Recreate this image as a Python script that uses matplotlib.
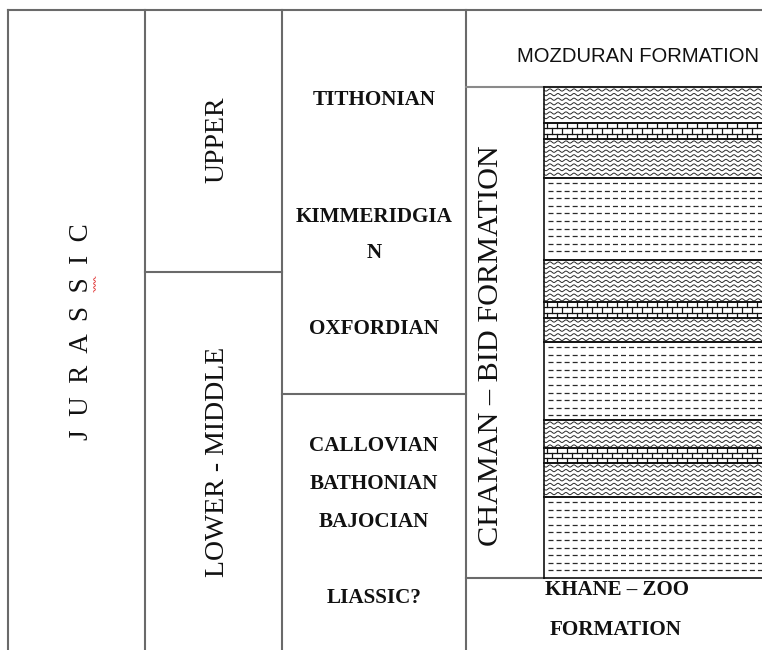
import numpy as np
import matplotlib.pyplot as plt

# --------------------------
# layout of the column (in pixels)

frame_left = 8
frame_top = 10
col_edges = [8, 145, 282, 466]
litho_left = 544
width_px = 762
height_px = 650

period_label = "J  U  R  A  S  S  I  C"

epoch_labels = ["UPPER", "LOWER - MIDDLE"]
epoch_bounds = [10, 272, 650]
epoch_label_y = [140, 462]

stage_split = 394
stage_labels = ["TITHONIAN", "KIMMERIDGIA", "N", "OXFORDIAN",
                "CALLOVIAN", "BATHONIAN", "BAJOCIAN", "LIASSIC?"]
stage_label_y = [100, 217, 253, 329, 446, 484, 522, 598]

formation_bounds = [10, 87, 578, 650]

litho_tops = [87, 123, 139, 178, 260, 302, 318, 342, 420, 448, 463, 497]
litho_bottoms = [123, 139, 178, 260, 302, 318, 342, 420, 448, 463, 497, 578]
litho_types = ["wavy", "brick", "wavy", "dash",
               "wavy", "brick", "wavy", "dash",
               "wavy", "brick", "wavy", "dash"]

# --------------------------

plt.rcParams["lines.scale_dashes"] = False

fig = plt.figure(figsize=(7.62, 6.5), dpi=100)
ax = fig.add_axes([0, 0, 1, 1])
ax.set_xlim(0, width_px)
ax.set_ylim(height_px, 0)
ax.axis("off")

grid_color = "#6a6a6a"
grid_lw = 1.5
serif = "Liberation Serif"

# frame and column lines
ax.plot([frame_left, width_px], [frame_top, frame_top], color=grid_color, lw=grid_lw)
for x in col_edges:
    ax.plot([x, x], [frame_top, height_px], color=grid_color, lw=grid_lw)

ax.plot([col_edges[1], col_edges[2]], [epoch_bounds[1], epoch_bounds[1]],
        color=grid_color, lw=grid_lw)
ax.plot([col_edges[2], col_edges[3]], [stage_split, stage_split],
        color=grid_color, lw=grid_lw)
ax.plot([col_edges[3], width_px], [formation_bounds[1], formation_bounds[1]],
        color="#8a8a8a", lw=grid_lw)
ax.plot([col_edges[3], litho_left], [formation_bounds[2], formation_bounds[2]],
        color=grid_color, lw=grid_lw)

# lithology patterns
xs = np.arange(litho_left, width_px + 1, 0.5)
for top, bot, kind in zip(litho_tops, litho_bottoms, litho_types):
    if kind == "wavy":
        for y0 in np.arange(top + 3, bot - 1, 4.6):
            ax.plot(xs, y0 + 1.1 * np.sin(2 * np.pi * (xs - litho_left) / 8.0),
                    color="#2a2a2a", lw=0.7)
    elif kind == "brick":
        rows = np.linspace(top, bot, 4)
        for y0 in rows[1:-1]:
            ax.plot([litho_left, width_px], [y0, y0], color="#111111", lw=0.9)
        for i in range(3):
            off = 0 if i % 2 == 0 else 5
            for x0 in np.arange(litho_left + 3 + off, width_px, 10):
                ax.plot([x0, x0], [rows[i], rows[i + 1]], color="#111111", lw=0.9)
    else:
        for y0 in np.arange(top + 5, bot - 2, 7.6):
            ax.plot([litho_left + 4, width_px], [y0, y0], color="#2a2a2a",
                    lw=0.9, dashes=(3.6, 2.2))
    ax.plot([litho_left, width_px], [top, top], color="#111111", lw=1.2)
    ax.plot([litho_left, width_px], [bot, bot], color="#111111", lw=1.2)
ax.plot([litho_left, litho_left], [litho_tops[0], litho_bottoms[-1]],
        color="#111111", lw=1.2)

# period label
ax.text(81, 332, period_label, rotation=90, ha="center", va="center",
        fontsize=19.5, family=serif, color="#111111")
ax.plot(94.5 + 0.8 * np.sign(np.sin(np.arange(0, 16, 1.0) * np.pi / 2 + 0.5)),
        np.linspace(277, 292, 16), color="#e03030", lw=0.6)

# epoch labels
for label, y in zip(epoch_labels, epoch_label_y):
    ax.text(217, y, label, rotation=90, ha="center", va="center",
            fontsize=20, family=serif, color="#111111")

# stage labels
stage_x = (col_edges[2] + col_edges[3]) / 2
for label, y in zip(stage_labels, stage_label_y):
    ax.text(stage_x, y, label, ha="center", va="center", fontsize=15.2,
            family=serif, fontweight="bold", color="#111111")

# formations
ax.text(517, 57, "MOZDURAN FORMATION", ha="left", va="center", fontsize=14.6,
        family="Liberation Sans", color="#111111")
ax.text(491, 346, "CHAMAN \u2013 BID FORMATION", rotation=90, ha="center",
        va="center", fontsize=21.8, family=serif, color="#111111")
ax.text(545, 590, "KHANE \u2013 ZOO", ha="left", va="center", fontsize=15,
        family=serif, fontweight="bold", color="#111111")
ax.text(550, 630, "FORMATION", ha="left", va="center", fontsize=15.2,
        family=serif, fontweight="bold", color="#111111")

fig.savefig("out.png", dpi=100)
